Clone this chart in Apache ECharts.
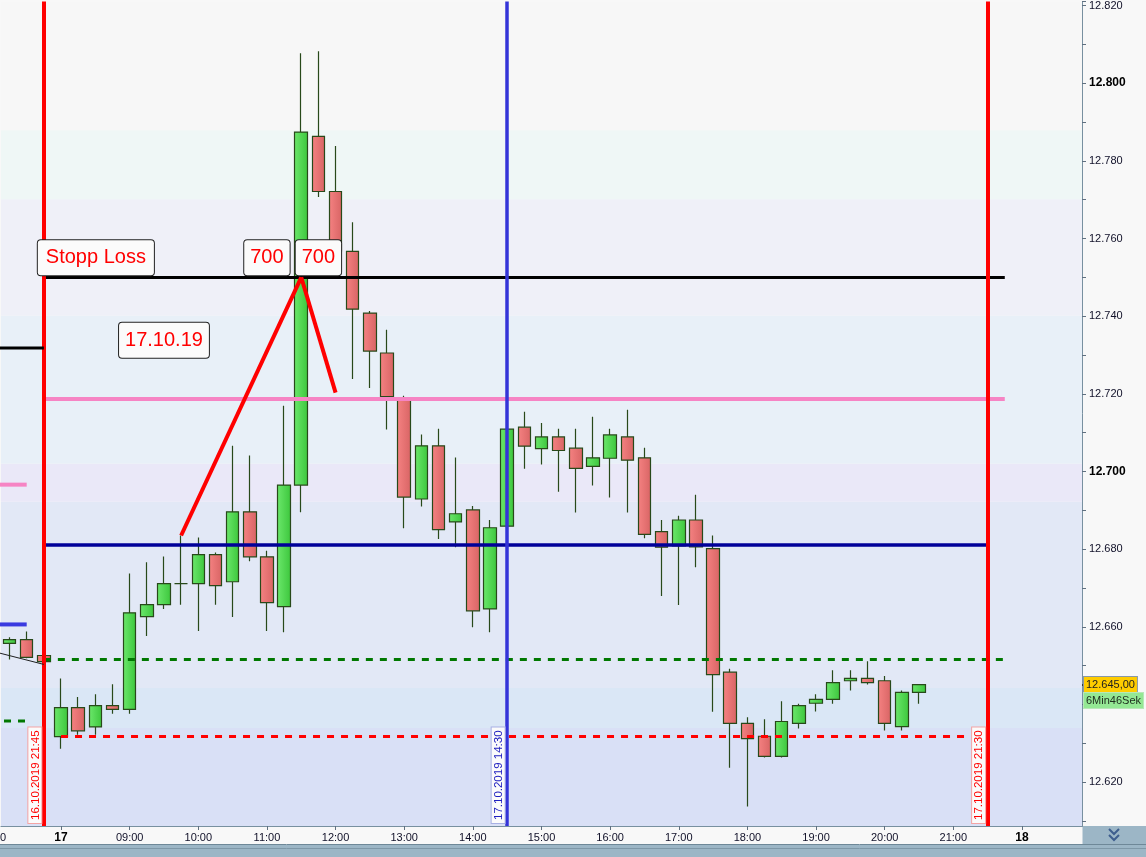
<!DOCTYPE html>
<html><head><meta charset="utf-8">
<script src="https://cdn.jsdelivr.net/npm/echarts@6/dist/echarts.min.js"></script>
<style>html,body{margin:0;padding:0;background:#f8f8f8;overflow:hidden}#c{width:1146px;height:857px}</style>
</head><body><div id="c"></div>
<script>
// ---------- data ----------
const prevDayTimes = ['21:15', '21:30', '21:45'];
const prevDayLabel = '21:00';
const sessionStart = '08:00', sessionEnd = '22:45';
const candleTimes = ['16.10 21:15','16.10 21:30','16.10 21:45',
 '17.10 08:00','17.10 08:15','17.10 08:30','17.10 08:45','17.10 09:00','17.10 09:15','17.10 09:30','17.10 09:45',
 '17.10 10:00','17.10 10:15','17.10 10:30','17.10 10:45','17.10 11:00','17.10 11:15','17.10 11:30','17.10 11:45',
 '17.10 12:00','17.10 12:15','17.10 12:30','17.10 12:45','17.10 13:00','17.10 13:15','17.10 13:30','17.10 13:45',
 '17.10 14:00','17.10 14:15','17.10 14:30','17.10 14:45','17.10 15:00','17.10 15:15','17.10 15:30','17.10 15:45',
 '17.10 16:00','17.10 16:15','17.10 16:30','17.10 16:45','17.10 17:00','17.10 17:15','17.10 17:30','17.10 17:45',
 '17.10 18:00','17.10 18:15','17.10 18:30','17.10 18:45','17.10 19:00','17.10 19:15','17.10 19:30','17.10 19:45',
 '17.10 20:00','17.10 20:15','17.10 20:30'];
const opens  = [12.6557,12.6567,12.6526,
 12.6317,12.6392,12.6342,12.6397,12.6387,12.6626,12.6657,12.6711,
 12.6711,12.6786,12.6716,12.6896,12.6780,12.6652,12.6965,12.7863,
 12.7721,12.7567,12.7408,12.7305,12.7190,12.6929,12.7066,12.6870,
 12.6901,12.6646,12.6859,12.7114,12.7059,12.7089,12.7060,12.7013,
 12.7034,12.7089,12.7035,12.6845,12.6808,12.6875,12.6801,12.6483,
 12.6351,12.6318,12.6266,12.6351,12.6403,12.6413,12.6461,12.6467,
 12.6461,12.6343,12.6431];
const closes = [12.6567,12.6521,12.6510,
 12.6392,12.6332,12.6397,12.6387,12.6636,12.6657,12.6711,12.6711,
 12.6786,12.6706,12.6896,12.6780,12.6662,12.6965,12.7874,12.7721,
 12.7568,12.7418,12.7310,12.7193,12.6934,12.7066,12.6850,12.6891,
 12.6641,12.6855,12.7109,12.7065,12.7089,12.7054,12.7008,12.7035,
 12.7094,12.7029,12.6838,12.6805,12.6875,12.6806,12.6477,12.6351,
 12.6312,12.6266,12.6356,12.6397,12.6413,12.6456,12.6467,12.6456,
 12.6351,12.6431,12.6451];
const lows   = [12.6516,12.6519,12.6509,
 12.6286,12.6322,12.6322,12.6376,12.6376,12.6576,12.6646,12.6657,
 12.6589,12.6657,12.6625,12.6769,12.6589,12.6586,12.6895,12.7707,
 12.7545,12.7238,12.7215,12.7108,12.6854,12.6910,12.6826,12.6805,
 12.6599,12.6586,12.6855,12.7007,12.7018,12.6948,12.6894,12.6964,
 12.6933,12.6894,12.6828,12.6679,12.6656,12.6753,12.6381,12.6237,
 12.6137,12.6263,12.6263,12.6338,12.6382,12.6402,12.6436,12.6451,
 12.6333,12.6333,12.6402];
const highs  = [12.6573,12.6588,12.6527,
 12.6467,12.6419,12.6426,12.6452,12.6737,12.6766,12.6781,12.6835,
 12.6830,12.6791,12.7066,12.7041,12.6796,12.7169,12.8077,12.8082,
 12.7838,12.7642,12.7413,12.7365,12.7195,12.7095,12.7110,12.7036,
 12.6911,12.6875,12.7112,12.7154,12.7125,12.7110,12.7110,12.7141,
 12.7110,12.7159,12.7061,12.6875,12.6886,12.6940,12.6835,12.6492,
 12.6367,12.6362,12.6408,12.6402,12.6426,12.6488,12.6488,12.6511,
 12.6473,12.6436,12.6451];
const yMin = 12.60869, yMax = 12.82103;
const bandEdges = [12.60869,12.6339,12.6442,12.6922,12.7020,12.7401,12.7701,12.7879,12.82103];
const bandColors = ['#d9e0f6','#dae7f6','#e2e8f6','#eae8f8','#e8f0f8','#eff0f8','#eff7f6','#f7f7f7'];
const stopLoss = 12.750, pinkLevel = 12.7187, navyLevel = 12.6812, greenLevel = 12.6516, redLevel = 12.6318;
// lines carried over from the previous day (they run in from the left edge)
const prevLevels = [ // [price, ends at, color, width, dashed]
  [12.7318, '16.10 21:45', '#000000', 3, false],
  [12.6966, '16.10 21:30', '#f684c4', 4, false],
  [12.6606, '16.10 21:30', '#3a3ae0', 4, false],
  [12.6357, '16.10 21:30', '#007800', 3, true]
];
const prevTrend = [12.6537, 12.6503];
const trendPoints = [['17.10 09:45',12.6835],['17.10 11:30',12.750],['17.10 12:00',12.7203]];
const vLines = [['16.10 21:45','16.10.2019 21:45'],['17.10 14:30','17.10.2019 14:30'],['17.10 21:30','17.10.2019 21:30']];
const notes = [['Stopp Loss','16.10 21:45',12.750],['700','17.10 11:00',12.750],['700','17.10 11:45',12.750],['17.10.19','17.10 09:30',12.7338]];
const lastPrice = 12.645, lastPriceText = '12.645,00', timeLeft = '6Min46Sek';

// ---------- categories ----------
function pad(n){return String(n).padStart(2,'0');}
const categories = prevDayTimes.map(t => '16.10 ' + t);
(function(){
  const toM = s => +s.slice(0,2)*60 + +s.slice(3);
  for (let m = toM(sessionStart); m <= toM(sessionEnd); m += 15)
    categories.push('17.10 ' + pad(Math.floor(m/60)) + ':' + pad(m%60));
})();
const candleData = categories.map(c => {
  const i = candleTimes.indexOf(c);
  return i < 0 ? '-' : [opens[i], closes[i], lows[i], highs[i]];
});

const FONT = 'Liberation Sans';
const chart = echarts.init(document.getElementById('c'), null, {renderer:'canvas'});

function seg(a, b, style){ return [{coord:a, lineStyle:style},{coord:b}]; }
const last = categories[categories.length-1];

const option = {
  animation:false,
  backgroundColor:'#f8f8f8',
  textStyle:{fontFamily:FONT},
  grid:{left:0.96, right:64, top:0, bottom:31, containLabel:false},
  xAxis:{
    type:'category', data:categories, boundaryGap:true,
    axisLine:{lineStyle:{color:'#7890a0', width:1}},
    axisTick:{show:true, alignWithLabel:true, length:4, lineStyle:{color:'#607080'},
      interval:(i, v) => v.endsWith(':00')},
    axisLabel:{
      interval:(i, v) => v.endsWith(':00'),
      margin:6, fontSize:11, color:'#101028', fontFamily:FONT,
      formatter: v => {
        const d = v.slice(0,5), t = v.slice(6);
        if (d === '17.10' && t === '08:00') return '{b|17}';
        if (d === '17.10' && t === '22:00') return '{b|18}';
        return t;
      },
      rich:{b:{fontWeight:'bold', fontSize:12, color:'#000', fontFamily:FONT}}
    },
    splitLine:{show:false}
  },
  yAxis:{
    type:'value', position:'right', min:yMin, max:yMax, splitNumber:21, scale:true,
    axisLine:{show:true, lineStyle:{color:'#7890a0', width:1}},
    axisTick:{show:true, length:4, lineStyle:{color:'#607080'}},
    splitLine:{show:false},
    axisLabel:{
      margin:7, fontSize:11, color:'#101028', fontFamily:FONT,
      formatter: v => {
        const k = Math.round(v*1000);
        if (Math.abs(v*1000 - k) > 1e-4 || k % 20 !== 0) return '';
        const s = (k/1000).toFixed(3);
        return k % 100 === 0 ? '{b|' + s + '}' : s;
      },
      rich:{b:{fontWeight:'bold', fontSize:12, color:'#000', fontFamily:FONT}}
    }
  },
  series:[
    { type:'line', data:[], z:0, silent:true,
      markArea:{silent:true, data: bandColors.map((c,i) => [
        {yAxis:bandEdges[i], itemStyle:{color:c, opacity:1, borderWidth:0}}, {yAxis:bandEdges[i+1]}])}
    },
    { type:'candlestick', data:candleData, z:2, barWidth:13,
      itemStyle:{
        color:new echarts.graphic.LinearGradient(0,0,1,0,[{offset:0,color:'#6ce86c'},{offset:1,color:'#3cc63c'}]),
        color0:new echarts.graphic.LinearGradient(0,0,1,0,[{offset:0,color:'#f58282'},{offset:1,color:'#d86464'}]),
        borderColor:'#28491a', borderColor0:'#28491a', borderWidth:1.2
      }
    },
    { type:'line', data:[], z:5, silent:true,
      markLine:{
        silent:true, symbol:['none','none'], label:{show:false}, animation:false,
        data:[
          seg(['16.10 21:45',stopLoss], ['17.10 21:45',stopLoss], {color:'#000', width:3, type:'solid'}),
          seg(['16.10 21:45',pinkLevel], ['17.10 21:45',pinkLevel], {color:'#f684c4', width:4, type:'solid'}),
          seg(['16.10 21:45',navyLevel], ['17.10 21:30',navyLevel], {color:'#000099', width:3.5, type:'solid'}),
          seg(['16.10 21:45',greenLevel], ['17.10 21:45',greenLevel], {color:'#007800', width:3, type:[7,7]}),
          seg(['17.10 08:00',redLevel], ['17.10 21:15',redLevel], {color:'#ff0000', width:3, type:[7,7]}),
          seg(trendPoints[0], trendPoints[1], {color:'#ff0000', width:4, type:'solid'}),
          seg(trendPoints[1], trendPoints[2], {color:'#ff0000', width:4, type:'solid'}),
          {xAxis:vLines[0][0], lineStyle:{color:'#ff0000', width:4, type:'solid'}},
          {xAxis:vLines[1][0], lineStyle:{color:'#3434d8', width:3.5, type:'solid'}},
          {xAxis:vLines[2][0], lineStyle:{color:'#ff0000', width:4, type:'solid'}}
        ]
      },
      markPoint:{
        silent:true, symbol:'rect', symbolSize:1, itemStyle:{color:'rgba(0,0,0,0)'},
        data: notes.map((n, i) => ({
          coord:[n[1], n[2]],
          label:{show:true, position:'inside', formatter:n[0],
            offset: i === 0 ? [52,-19.5] : (i === 3 ? [0,0] : [0,-19.5]),
            color:'#ff0000', fontSize:20, fontFamily:FONT, lineHeight:23,
            backgroundColor:'#fbfbfb', borderColor:'#222', borderWidth:1, borderRadius:3,
            padding: i === 0 ? [6,8,6,8] : [6,6,6,6]}
        }))
      }
    }
  ]
};
chart.setOption(option);

// ---------- overlays placed through the chart's own scales ----------
const g = [];
const X = c => chart.convertToPixel({xAxisIndex:0}, c);
const Y = v => chart.convertToPixel({yAxisIndex:0}, v);
const yBottom = Y(yMin);
const x0 = X(categories[0]), x1 = X(categories[1]);
const slot = x1 - x0;
const xBefore = x0 - slot; // slot of 16.10 21:00
g.push({type:'text', x:xBefore, y:yBottom+6, z:100, silent:true,
  style:{text:prevDayLabel, fill:'#101028', font:'11px ' + FONT, align:'center', verticalAlign:'top'}});
// carried-over lines from the left edge
prevLevels.forEach(p => {
  const y = Y(p[0]);
  g.push({type:'line', z:50, silent:true, shape:{x1:0, y1:y, x2:X(p[1]), y2:y},
    style:{stroke:p[2], lineWidth:p[3], lineDash:p[4] ? [7,7] : null, lineDashOffset:p[4] ? -4 : 0}});
});
g.push({type:'line', z:50, silent:true, shape:{x1:xBefore, y1:Y(prevTrend[0]), x2:X('16.10 21:45'), y2:Y(prevTrend[1])},
  style:{stroke:'#202020', lineWidth:1}});
const vStyles = [['#ff0000','#f4a4a4'],['#2020c0','#a8b0e4'],['#ff0000','#f4a4a4']];
vLines.forEach((v, i) => {
  const x = X(v[0]);
  g.push({type:'text', x:x-2.5, y:yBottom-3, rotation:Math.PI/2, z:100, silent:true,
    style:{text:v[1], fill:vStyles[i][0], font:'11.5px ' + FONT, align:'left', verticalAlign:'bottom',
      backgroundColor:'#fbfbfb', borderColor:vStyles[i][1], borderWidth:1, padding:[1,3,0,3]}});
});
const py = Y(lastPrice);
const axisX = X(last) + slot/2;
g.push({type:'line', z:100, silent:true, shape:{x1:axisX, y1:py, x2:axisX+5, y2:py}, style:{stroke:'#202020', lineWidth:1.5}});
g.push({type:'text', x:axisX+2, y:py-8, z:100, silent:true,
  style:{text:lastPriceText, fill:'#202020', font:'11px ' + FONT, align:'left', verticalAlign:'top',
    backgroundColor:'#ffcc00', borderColor:'#8898a8', borderWidth:1, padding:[2,2,1,2], lineHeight:12}});
g.push({type:'text', x:axisX+2, y:py+8, z:100, silent:true,
  style:{text:timeLeft, fill:'#203020', font:'11px ' + FONT, align:'left', verticalAlign:'top',
    backgroundColor:'#94e894', borderColor:'#b8e8b8', borderWidth:1, padding:[2,2,1,2], lineHeight:12}});
// bottom toolbar strip
g.push({type:'rect', z:90, silent:true, shape:{x:0, y:845, width:1146, height:12}, style:{fill:'#9cb6c6'}});
g.push({type:'line', z:91, silent:true, shape:{x1:0, y1:844.5, x2:1146, y2:844.5}, style:{stroke:'#6e8898', lineWidth:1}});
g.push({type:'line', z:91, silent:true, shape:{x1:0, y1:848.5, x2:1146, y2:848.5}, style:{stroke:'#7e98a8', lineWidth:1}});
g.push({type:'rect', z:90, silent:true, shape:{x:axisX+0.5, y:826, width:1146-axisX, height:19}, style:{fill:'#9cb6c6'}});
g.push({type:'polyline', z:92, silent:true, shape:{points:[[1109,829],[1114,834],[1119,829]]}, style:{stroke:'#3e5e8e', lineWidth:2, fill:null}});
g.push({type:'polyline', z:92, silent:true, shape:{points:[[1109,835],[1114,840],[1119,835]]}, style:{stroke:'#3e5e8e', lineWidth:2, fill:null}});
chart.setOption({graphic:g});
</script></body></html>
